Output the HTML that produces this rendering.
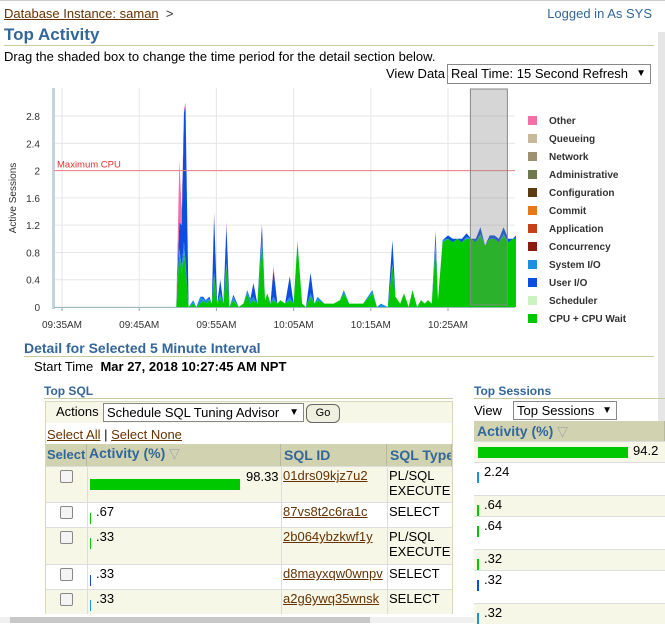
<!DOCTYPE html>
<html><head><meta charset="utf-8">
<style>
body{margin:0;width:665px;height:623px;overflow:hidden;background:#fff;font-family:"Liberation Sans",sans-serif;position:relative}
.a{position:absolute;white-space:nowrap}
.lnk{color:#663300;text-decoration:underline}
.sel{position:absolute;border:1px solid #888;background:#fff;font-size:13px;line-height:18px;padding-left:3px;box-sizing:border-box;white-space:nowrap;overflow:hidden}
.sel:after{content:"▼";position:absolute;right:4px;top:0;font-size:10px;background:#fff}
.cell{position:absolute;font-size:14px;box-sizing:border-box;white-space:nowrap}
.hd{background:#d1d3b0;color:#336699;font-weight:bold;border-right:1px solid #b8b8a0;overflow:hidden}
.cb{position:absolute;width:11px;height:11px;border:1px solid #888;border-radius:2px;background:#f4f4f4}
</style></head><body>
<div class="a" style="left:0;top:0;width:665px;height:1px;background:#ccc"></div>
<div class="a" style="left:658px;top:32px;width:7px;height:585px;background:#e6e6e6"></div>
<div class="a" style="left:0;top:617px;width:665px;height:6px;background:#f0f0f0"></div>
<div class="a" style="left:10px;top:617px;width:360px;height:6px;background:#c8c8c8"></div>

<div class="a" style="left:4px;top:6px;font-size:13px;color:#333"><span class="lnk">Database Instance: saman</span> &nbsp;&gt;</div>
<div class="a" style="right:13px;top:6px;font-size:13px;color:#336699">Logged in As SYS</div>
<div class="a" style="left:4px;top:25px;font-size:17px;font-weight:bold;color:#336699">Top Activity</div>
<div class="a" style="left:4px;top:45px;width:650px;height:1px;background:#c8cba0"></div>
<div class="a" style="left:4px;top:49px;font-size:13px;color:#000">Drag the shaded box to change the time period for the detail section below.</div>
<div class="a" style="left:386px;top:66px;font-size:13px">View Data</div>
<div class="sel" style="left:447px;top:64px;width:204px;height:20px">Real Time: 15 Second Refresh</div>

<svg class="a" style="left:0;top:80px" width="665" height="260" id="chart"></svg>

<div class="a" style="left:24px;top:340px;font-size:14px;font-weight:bold;color:#336699">Detail for Selected 5 Minute Interval</div>
<div class="a" style="left:24px;top:356px;width:630px;height:1px;background:#c8cba0"></div>
<div class="a" style="left:34px;top:359px;font-size:13px">Start Time &nbsp;<b>Mar 27, 2018 10:27:45 AM NPT</b></div>

<div class="a" style="left:44px;top:384px;font-size:12px;font-weight:bold;color:#336699">Top SQL</div>
<div class="a" style="left:44px;top:398px;width:409px;height:1px;background:#c8cba0"></div>
<div class="a" style="left:45px;top:401px;width:408px;height:213px;border:1px solid #d6d8b8;box-sizing:border-box"></div>
<div class="a" style="left:46px;top:402px;width:406px;height:21px;background:#f7f7e7"></div>
<div class="a" style="left:56px;top:404px;font-size:13px">Actions</div>
<div class="sel" style="left:103px;top:403px;width:201px;height:19px;line-height:17px">Schedule SQL Tuning Advisor</div>
<div class="a" style="left:306px;top:404px;width:32px;height:17px;border:1px solid #666;border-radius:6px;background:#f0f0e0;font-size:11px;text-align:center;line-height:17px">Go</div>
<div class="a" style="left:47px;top:427px;font-size:13px"><span class="lnk">Select All</span> | <span class="lnk">Select None</span></div>
<div id="sqltab"></div>

<div class="a" style="left:474px;top:384px;font-size:12px;font-weight:bold;color:#336699">Top Sessions</div>
<div class="a" style="left:474px;top:398px;width:191px;height:1px;background:#c8cba0"></div>
<div class="a" style="left:474px;top:403px;font-size:13px">View</div>
<div class="sel" style="left:513px;top:401px;width:104px;height:19px;line-height:17px">Top Sessions</div>
<div class="cell hd" style="left:474px;top:421px;width:191px;height:20px;padding:2px 3px">Activity (%) <span style="color:#aaa;font-weight:normal">▽</span></div>
<div id="sesstab"></div>

<script>
// Chart data (minutes after 09:35; values in active sessions)
const times = [14.8,15.2,15.5,15.8,16.0,16.4,17.0,17.4,17.9,18.3,18.6,19.1,19.4,19.7,20.1,20.5,20.9,21.3,21.7,22.2,22.9,23.5,24.0,24.4,24.8,25.3,25.9,26.3,26.6,27.0,27.4,27.9,28.3,28.9,29.5,30.0,30.5,31.1,31.6,32.2,32.7,33.1,34.0,35.2,36.0,36.5,37.2,37.8,39.0,40.2,40.8,41.3,42.2,42.8,43.2,43.8,44.3,44.9,45.4,46.0,46.5,47.0,47.4,47.9,48.4,48.7,49.3,50.0,50.6,51.2,51.8,52.4,53.0,53.6,54.2,54.8,55.4,56.0,56.6,57.2,57.8,58.4,58.8];
const cpu  = [0,0.8,0.5,0.8,0.6,0,0.05,0,0.05,0.1,0.05,0.1,0.05,0.45,0.05,0.15,0.05,0.6,0,0.1,0,0.05,0.2,0.05,0.1,0.05,0.95,0.1,0.2,0.05,0.1,0.05,0.1,0.05,0.1,0.05,0.95,0.05,0,0.15,0.05,0.1,0.05,0.05,0.1,0.2,0.05,0.05,0.05,0.2,0,0,0,0.6,0.15,0.05,0.2,0,0.25,0,0.1,0.05,0.1,0.05,0.9,0.1,0.95,1.0,0.95,1.0,0.95,1.0,1.0,0.95,1.05,0.9,1.0,1.0,0.95,1.05,0.95,1.0,1.0];
const uio  = [0,0.4,0.6,1.9,2.3,0,0,0,0,0.03,0,0.03,0,0.85,0,0.2,0,0.55,0,0.03,0,0,0,0.02,0.2,0,0.2,0,0,0,0.4,0,0,0,0.3,0,0,0,0,0.3,0,0,0,0,0,0,0,0,0,0,0,0,0,0.35,0,0,0,0,0,0,0,0,0,0,0.15,0,0,0.05,0.05,0,0.05,0.05,0,0.05,0.1,0,0.05,0.05,0.05,0.1,0.05,0,0.05];
const sio  = [0,0.05,0.1,0.15,0.05,0,0.05,0,0.1,0.02,0.05,0.02,0,0.05,0,0.05,0,0.05,0,0.05,0,0,0.05,0.05,0.05,0,0.05,0,0,0,0.05,0,0,0,0.05,0,0.02,0,0,0.05,0,0.05,0,0,0,0.05,0,0,0,0.05,0,0.05,0,0.03,0,0,0,0,0,0,0,0,0,0,0.05,0,0.03,0,0,0,0,0.03,0,0,0.02,0,0,0,0,0.02,0,0,0];
const oth  = [0,0.9,0.2,0.05,0.05,0,0,0,0,0,0,0,0,0.05,0,0,0,0.05,0,0,0,0,0,0,0,0,0.02,0,0,0,0.05,0,0,0,0,0,0,0,0,0,0,0,0,0,0,0,0,0,0,0,0,0,0,0,0,0,0,0,0,0,0,0,0,0,0.03,0,0,0,0,0,0,0,0,0,0,0,0,0,0,0,0,0,0];
const yTicks = ["0","0.4","0.8","1.2","1.6","2","2.4","2.8"];
const xTicks = ["09:35AM","09:45AM","09:55AM","10:05AM","10:15AM","10:25AM"];
const legend = ["Other","Queueing","Network","Administrative","Configuration","Commit","Application","Concurrency","System I/O","User I/O","Scheduler","CPU + CPU Wait"];
const legendColors = ["#f26fa7","#c7b99a","#9c9170","#707850","#5a3c10","#e67817","#c8401a","#8a1c10","#1b8fe0","#0a4fe0","#c9f3c0","#00c800"];
const maxCpu = 2;

const NS="http://www.w3.org/2000/svg";
const svg=document.getElementById('chart');
const X=m=>62+m*7.72, Y=v=>227-v*68.2;
function el(t,a,name){const e=document.createElementNS(NS,t);for(const k in a)e.setAttribute(k,a[k]);


svg.appendChild(e);return e;}
yTicks.forEach((t,i)=>{const v=parseFloat(t);
 el('line',{x1:54,x2:515,y1:Y(v),y2:Y(v),stroke:'#e6e6e6'},'y-gridline');
 const tx=el('text',{x:40,y:Y(v)+4,'font-size':10,fill:'#333','text-anchor':'end'},'y-tick-label');tx.textContent=t;});
xTicks.forEach((t,i)=>{const x=X(i*10);
 el('line',{x1:x,x2:x,y1:8,y2:227,stroke:'#e6e6e6'},'x-gridline');
 el('line',{x1:x,x2:x,y1:227,y2:231,stroke:'#8aa'},'x-tick');
 const tx=el('text',{x:x,y:248,'font-size':10,fill:'#333','text-anchor':'middle'},'x-tick-label');tx.textContent=t;});
el('rect',{x:52,y:8,width:3,height:221,fill:'#c5d3e0'},'y-axis');
el('line',{x1:54,x2:515,y1:227.5,y2:227.5,stroke:'#9bb'},'x-axis');
const yl=el('text',{x:16,y:118,'font-size':10,fill:'#333','text-anchor':'middle',transform:'rotate(-90 16 118)'},'y-axis-title');yl.textContent='Active Sessions';
const series=[[cpu,'#00c800','area-cpu'],[sio,'#1b8fe0','area-system-io'],[uio,'#0a4fe0','area-user-io'],[oth,'#f26fa7','area-other']];
const base=times.map(()=>0);
series.forEach(([arr,c,n])=>{
 const top=times.map((t,i)=>base[i]+arr[i]);
 let d='M'+times.map((t,i)=>X(t)+','+Y(top[i])).join(' L');
 for(let i=times.length-1;i>=0;i--)d+=' L'+X(times[i])+','+Y(base[i]);
 el('path',{d:d+'Z',fill:c},n);
 top.forEach((v,i)=>base[i]=v);
});
el('line',{x1:54,x2:515,y1:Y(maxCpu),y2:Y(maxCpu),stroke:'#f08080'},'max-cpu-line');
const mc=el('text',{x:57,y:Y(maxCpu)-3,'font-size':9.5,fill:'#e03030'},'max-cpu-label');mc.textContent='Maximum CPU';
el('rect',{x:X(52.9),y:9,width:37,height:216,fill:'rgba(130,130,130,0.33)',stroke:'#888'},'selection-box');
legend.forEach((l,i)=>{const y=40+i*18;
 el('rect',{x:528,y:y-4,width:9,height:9,fill:legendColors[i]},'legend-swatch');
 const tx=el('text',{x:549,y:y+4,'font-size':10,'font-weight':'bold',fill:'#333'},'legend-entry');tx.textContent=l;});

// Top SQL table
const sqlAct=[98.33,0.67,0.33,0.33,0.33];
const sqlLabels=["98.33",".67",".33",".33",".33"];
const sqlIds=["01drs09kjz7u2","87vs8t2c6ra1c","2b064ybzkwf1y","d8mayxqw0wnpv","a2g6ywq35wnsk"];
const sqlTypes=["PL/SQL<br>EXECUTE","SELECT","PL/SQL<br>EXECUTE","SELECT","SELECT"];
const sqlBarColors=["#00c800","#00c800","#00c800","#0a4fe0","#1b8fe0"];
const rowH=[36,25,37,25,25];
const T=document.getElementById('sqltab');
function div(st,html,name,inter){const d=document.createElement('div');d.className='cell';d.style.cssText=st;d.innerHTML=html;


T.appendChild(d);return d;}
div('left:46px;top:444px;width:41px;height:22px;padding:3px 1px;font-size:13px','Select','select-header',false).className='cell hd';
div('left:87px;top:444px;width:194px;height:22px;padding:1px 2px','Activity (%) <span style="color:#aaa;font-weight:normal">▽</span>','activity-header',true).className='cell hd';
div('left:281px;top:444px;width:106px;height:22px;padding:3px 3px','SQL ID','sql-id-header',true).className='cell hd';
div('left:387px;top:444px;width:65px;height:22px;padding:3px 3px','SQL Type','sql-type-header',true).className='cell hd';
let y=466;
sqlAct.forEach((v,i)=>{
 const bg=i%2==0?'#f7f7e7':'#fff';
 div(`left:46px;top:${y}px;width:406px;height:${rowH[i]}px;background:${bg};border-top:1px solid #ddd`,'','sql-row',false);
 const cb=document.createElement('div');cb.className='cb';cb.style.cssText=`left:60px;top:${y+4}px`;
 
 
 T.appendChild(cb);
 const w=Math.max(1,v/98.33*150);
 if(i==0){div(`left:90px;top:${y+13}px;width:${w}px;height:11px;background:${sqlBarColors[i]}`,'','sql-activity-bar',false);
  div(`left:${90+w+6}px;top:${y+3}px;font-size:13px`,sqlLabels[i],'sql-activity-value',false);}
 else{div(`left:90px;top:${y+11}px;width:1px;height:11px;background:${sqlBarColors[i]}`,'','sql-activity-bar',false);
  div(`left:96px;top:${y+2}px;font-size:13px`,sqlLabels[i],'sql-activity-value',false);}
 div(`left:283px;top:${y+2}px;font-size:13px;color:#663300;text-decoration:underline`,sqlIds[i],'sql-id-link',true);
 div(`left:389px;top:${y+2}px;width:64px;font-size:13px;line-height:15px`,sqlTypes[i],'sql-type',false);
 y+=rowH[i];
});
[87,281,387].forEach(x=>div(`left:${x}px;top:466px;width:1px;height:148px;background:#ddd`,'','column-divider',false));

// Top sessions
const sessAct=[94.2,2.24,0.64,0.64,0.32,0.32,0.32];
const sessLabels=["94.2","2.24",".64",".64",".32",".32",".32"];
const sessColors=["#00c800","#1b8fe0","#00c800","#00c800","#00c800","#0a4fe0","#1b8fe0"];
const sessH=[21,33,21,33,21,33,21];
let sy=441;
sessAct.forEach((v,i)=>{
 const bg=i%2==0?'#f7f7e7':'#fff';
 div(`left:474px;top:${sy}px;width:191px;height:${sessH[i]}px;background:${bg};border-top:1px solid #ddd`,'','session-row',false);
 if(i==0){const w=v/94.2*150;div(`left:478px;top:${sy+6}px;width:${w}px;height:11px;background:${sessColors[i]}`,'','session-activity-bar',false);
  div(`left:${478+w+5}px;top:${sy+2}px;font-size:13px`,sessLabels[i],'session-activity-value',false);}
 else{div(`left:477px;top:${sy+10}px;width:2px;height:11px;background:${sessColors[i]}`,'','session-activity-bar',false);
  div(`left:484px;top:${sy+2}px;font-size:13px`,sessLabels[i],'session-activity-value',false);}
 sy+=sessH[i];
});
</script>
</body></html>
